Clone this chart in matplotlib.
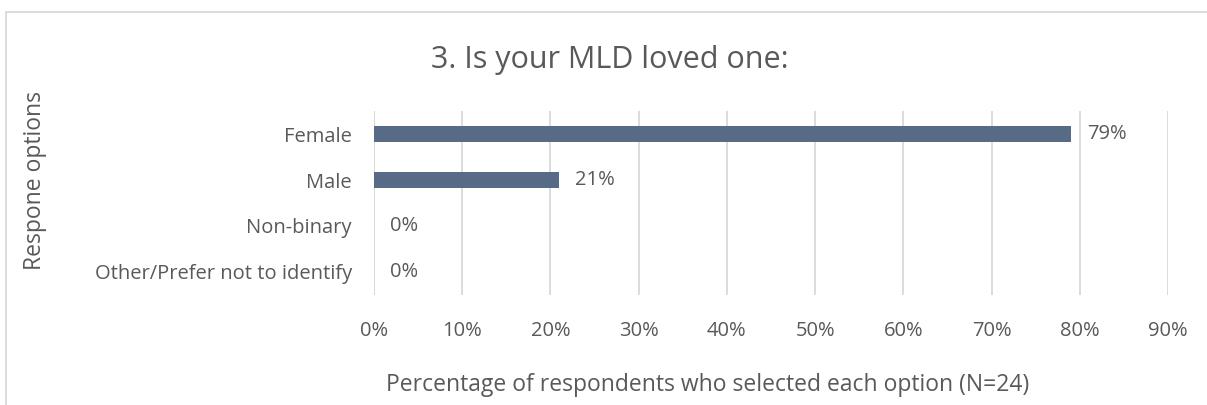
import matplotlib.pyplot as plt
from matplotlib.patches import Rectangle
from matplotlib.ticker import PercentFormatter

# survey responses (N=24)
options = ['Female', 'Male', 'Non-binary', 'Other/Prefer not to identify']
shares = [0.79, 0.21, 0.0, 0.0]

bar_color = '#576A86'
text_color = '#595959'
grid_color = '#D9D9D9'

plt.rcParams['font.family'] = ['Open Sans', 'DejaVu Sans']

fig = plt.figure(figsize=(12.07, 4.05), dpi=100)
ax = fig.add_axes([374/1207, 1 - 295/405, (1168 - 374)/1207, (295 - 111)/405])

ypos = list(range(len(options)))
ax.barh(ypos, shares, height=0.34, color=bar_color, zorder=3)
for y, v in zip(ypos, shares):
    ax.text(v + 0.018, y, '{:.0%}'.format(v), va='center', ha='left',
            fontsize=14.5, color=text_color)

ax.set_xlim(0, 0.9)
ax.set_ylim(len(options) - 0.5, -0.5)
ax.set_yticks(ypos)
ax.set_yticklabels(options)
ax.set_xticks([i / 10 for i in range(10)])
ax.xaxis.set_major_formatter(PercentFormatter(1.0, decimals=0))
ax.tick_params(length=0, labelsize=14.5, colors=text_color)
ax.tick_params(axis='x', pad=19)
ax.tick_params(axis='y', pad=16)
ax.grid(axis='x', color=grid_color, linewidth=1.3, zorder=0)
for s in ax.spines.values():
    s.set_visible(False)
ax.axvline(0, color=grid_color, linewidth=1.3, zorder=1)

fig.text(708/1207, 1 - 385/405,
         'Percentage of respondents who selected each option (N=24)',
         ha='center', va='center', fontsize=16.5, color=text_color)
fig.text(35/1207, 1 - 181/405, 'Respone options', rotation=90, ha='center',
         va='center', fontsize=16.5, color=text_color)
fig.text(610/1207, 1 - 60/405, '3. Is your MLD loved one:', ha='center',
         va='center', fontsize=22, color=text_color)

# chart frame
fig.patches.append(Rectangle((6/1207, -0.1), 1.2, (405 - 12)/405 + 0.1,
                             transform=fig.transFigure, fill=False,
                             edgecolor=grid_color, linewidth=1.3))

fig.savefig('out.png', dpi=100)
